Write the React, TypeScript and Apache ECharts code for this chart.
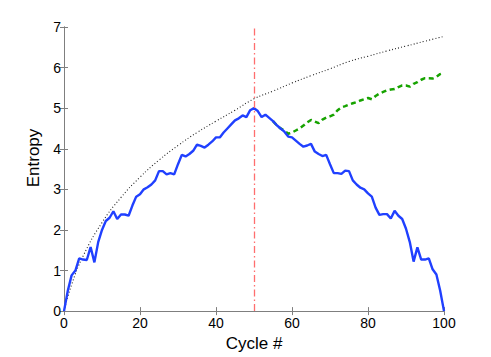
import React, { useEffect, useRef } from "react";
import * as echarts from "echarts";

// Blue series: entropy per cycle (cycle 0..100)
const blueEntropy = [
  0, 0.5, 0.88, 1.0, 1.3, 1.27, 1.26, 1.58, 1.2, 1.7,
  2.0, 2.22, 2.3, 2.46, 2.27, 2.38, 2.38, 2.35, 2.6, 2.82,
  2.88, 3.0, 3.05, 3.12, 3.22, 3.45, 3.45, 3.37, 3.4, 3.37,
  3.62, 3.85, 3.81, 3.87, 3.95, 4.1, 4.07, 4.03, 4.1, 4.18,
  4.28, 4.28, 4.4, 4.5, 4.6, 4.7, 4.75, 4.82, 4.78, 4.95,
  5.0, 4.93, 4.78, 4.84, 4.76, 4.68, 4.58, 4.5, 4.42, 4.3,
  4.28, 4.2, 4.12, 4.05, 4.08, 4.12, 3.93, 3.87, 3.82, 3.85,
  3.62, 3.4, 3.4, 3.38, 3.46, 3.45, 3.22, 3.12, 3.04, 3.0,
  2.9, 2.82, 2.55, 2.37, 2.39, 2.39, 2.28, 2.47, 2.35, 2.27,
  2.03, 1.7, 1.22, 1.57, 1.27, 1.27, 1.3, 1.03, 0.9, 0.5,
  0,
];

// Green dashed series: starts at cycle 55
const greenStartCycle = 55;
const greenEntropy = [
  4.68, 4.58, 4.5, 4.45, 4.37, 4.4, 4.45, 4.5, 4.57, 4.65,
  4.71, 4.67, 4.63, 4.72, 4.77, 4.8, 4.84, 4.95, 5.02, 5.05,
  5.09, 5.12, 5.15, 5.19, 5.22, 5.25, 5.22, 5.3, 5.36, 5.4,
  5.44, 5.46, 5.47, 5.52, 5.56, 5.56, 5.53, 5.6, 5.64, 5.7,
  5.74, 5.74, 5.73, 5.77, 5.84, 5.87,
];

// Dotted upper bound curve
const boundCycles = [0, 2, 5, 10, 15, 20, 25, 30, 35, 40, 45, 50, 55, 60, 65, 70, 75, 80, 85, 90, 95, 100];
const boundEntropy = [0, 0.65, 1.35, 2.18, 2.8, 3.3, 3.72, 4.08, 4.4, 4.68, 4.95, 5.23, 5.42, 5.62, 5.8, 5.97, 6.15, 6.28, 6.41, 6.53, 6.65, 6.77];

const markerCycle = 50;
const xTicks = { min: 0, max: 100, interval: 20 };
const yTicks = { min: 0, max: 7, interval: 1 };

const FONT = "'Liberation Sans', Arial, Helvetica, sans-serif";

export default function App() {
  const ref = useRef<HTMLDivElement>(null);
  useEffect(() => {
    if (!ref.current) return;
    const chart = echarts.init(ref.current, null, { renderer: "svg" });
    const blueData = blueEntropy.map((v, i) => [i, v]);
    const greenData = greenEntropy.map((v, i) => [greenStartCycle + i, v]);
    const boundData = boundEntropy.map((v, i) => [boundCycles[i], v]);
    const axisLine = { show: true, lineStyle: { color: "#7f7f7f", width: 1 } };
    const tickInside = { show: true, inside: true, length: 4, lineStyle: { color: "#7f7f7f" } };
    chart.setOption({
      animation: false,
      backgroundColor: "#ffffff",
      grid: { left: 64, right: 47, top: 27, bottom: 40, containLabel: false },
      xAxis: [
        {
          type: "value",
          ...xTicks,
          position: "bottom",
          axisLine,
          axisTick: tickInside,
          splitLine: { show: false },
          axisLabel: { color: "#000", fontSize: 14, fontFamily: FONT, margin: 5 },
          name: "Cycle #",
          nameLocation: "middle",
          nameGap: 15,
          nameTextStyle: { color: "#000", fontSize: 17, fontFamily: FONT },
        },
        {
          type: "value",
          ...xTicks,
          position: "top",
          axisLine,
          axisTick: tickInside,
          splitLine: { show: false },
          axisLabel: { show: false },
        },
      ],
      yAxis: [
        {
          type: "value",
          ...yTicks,
          position: "left",
          axisLine,
          axisTick: tickInside,
          splitLine: { show: false },
          axisLabel: { color: "#000", fontSize: 14, fontFamily: FONT, margin: 3 },
        },
        {
          type: "value",
          ...yTicks,
          position: "right",
          axisLine,
          axisTick: tickInside,
          splitLine: { show: false },
          axisLabel: { show: false },
        },
      ],
      graphic: [
        {
          type: "text",
          x: 33,
          y: 158,
          rotation: Math.PI / 2,
          style: {
            text: "Entropy",
            fill: "#000",
            font: `17px ${FONT}`,
            align: "center",
            verticalAlign: "middle",
          },
        },
      ],
      series: [
        {
          type: "line",
          data: boundData,
          smooth: true,
          showSymbol: false,
          symbol: "none",
          lineStyle: { color: "#222", width: 1.1, type: [1, 2.2] },
          z: 1,
        },
        {
          type: "line",
          data: greenData,
          showSymbol: false,
          symbol: "none",
          lineStyle: { color: "#17a300", width: 2.5, type: [5, 3.5] },
          z: 2,
        },
        {
          type: "line",
          data: blueData,
          showSymbol: false,
          symbol: "none",
          lineStyle: { color: "#2040ff", width: 2.4 },
          z: 3,
          markLine: {
            silent: true,
            symbol: "none",
            label: { show: false },
            lineStyle: { color: "#ff6e6e", width: 1.3, type: [7, 3, 1.5, 3] },
            data: [{ xAxis: markerCycle }],
          },
        },
      ],
    });
    return () => chart.dispose();
  }, []);
  return (
    <div
      ref={ref}
      style={{ position: "absolute", left: 0, top: 0, width: 491, height: 357, background: "#fff" }}
    />
  );
}
